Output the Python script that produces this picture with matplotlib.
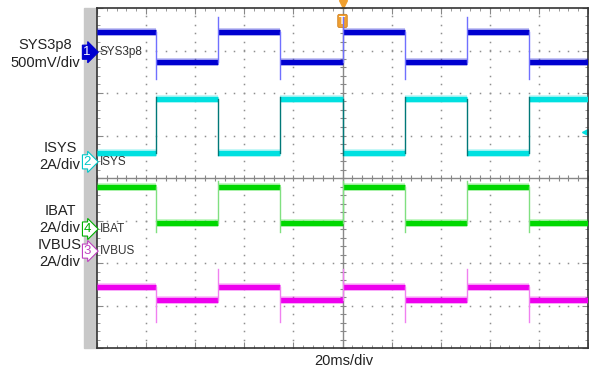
import numpy as np
import matplotlib.pyplot as plt

# scope screen: 20 ms/div horizontally (10 div), 8 div vertically
t_start, t_end = -100.0, 100.0
edge_times = [-75.9, -50.6, -25.3, 0.0, 25.3, 50.6, 75.9]   # ms, trigger at 0

# levels in screen divisions (centre = 0)
sys_high, sys_low = 3.44, 2.73          # SYS3p8
sys_rise_pk, sys_fall_pk = 3.79, 2.33
isys_high, isys_low = 1.86, 0.60        # ISYS
isys_rise_pk, isys_fall_pk = 1.90, 0.55
ibat_high, ibat_low = -0.20, -1.05      # IBAT
ibat_rise_pk, ibat_fall_pk = -0.08, -1.27
ivbus_high, ivbus_low = -2.56, -2.87    # IVBUS
ivbus_rise_pk, ivbus_fall_pk = -2.14, -3.39

plt.rcParams['font.family'] = ['Liberation Sans', 'DejaVu Sans']

fig = plt.figure(figsize=(5.89, 3.72), dpi=100)
W, H = 589.0, 372.0

# grey strip left of the screen (drawn first, under everything)
fig.patches.append(plt.Rectangle((84 / W, (H - 348) / H), 13 / W, 340 / H,
                                 transform=fig.transFigure, color='#c8c8c8', zorder=-5))

ax = fig.add_axes([97 / W, (H - 348) / H, 491 / W, 340 / H])
ax.set_xlim(t_start, t_end)
ax.set_ylim(-4, 4)

# dotted graticule
for gx in np.arange(-80, 81, 20):
    if gx == 0:
        continue
    ys = np.arange(-4, 4.01, 0.2)
    ax.plot(np.full_like(ys, gx), ys, ls='none', marker='s', ms=1.1, mew=0, color='#909090')
for gy in np.arange(-3, 3.1, 1):
    if gy == 0:
        continue
    xs = np.arange(-100, 100.1, 4)
    ax.plot(xs, np.full_like(xs, gy), ls='none', marker='s', ms=1.1, mew=0, color='#909090')

# centre lines with minor ticks
ax.axhline(0, color='#888888', lw=1.0)
ax.axvline(0, color='#888888', lw=1.0)
xs = np.arange(-100, 100.1, 4)
ax.plot(xs, np.zeros_like(xs), ls='none', marker='|', ms=5, color='#888888', mew=0.8)
ys = np.arange(-4, 4.01, 0.2)
ax.plot(np.zeros_like(ys), ys, ls='none', marker='_', ms=5, color='#888888', mew=0.8)

ax.set_xticks(np.arange(-100, 101, 20))
ax.set_yticks(np.arange(-4, 5, 1))
ax.set_xticks(np.arange(-100, 101, 4), minor=True)
ax.set_yticks(np.arange(-4, 4.01, 0.2), minor=True)
ax.tick_params(which='both', direction='in', top=True, right=True,
               labelbottom=False, labelleft=False, color='#888888')
ax.tick_params(which='major', length=4)
ax.tick_params(which='minor', length=2.5)
for s in ax.spines.values():
    s.set_color('#333333')
    s.set_linewidth(1.2)


def draw_trace(start_high, hi, lo, rise_pk, fall_pk, color, edge_color):
    bounds = [t_start] + edge_times + [t_end]
    state = start_high
    for i in range(len(bounds) - 1):
        lvl = hi if state else lo
        ax.plot([bounds[i], bounds[i + 1]], [lvl, lvl], color=color, lw=3.8,
                solid_capstyle='butt', zorder=3)
        ax.plot([bounds[i], bounds[i + 1]], [lvl, lvl], color=color, lw=5.4,
                alpha=0.3, solid_capstyle='butt', zorder=3)
        if i < len(edge_times):
            new = lo if state else hi
            pk = fall_pk if state else rise_pk
            lo_y, hi_y = min(lvl, new, pk), max(lvl, new, pk)
            ax.plot([edge_times[i], edge_times[i]], [lo_y, hi_y], color=edge_color,
                    lw=1.0, zorder=4)
        state = not state


draw_trace(True, sys_high, sys_low, sys_rise_pk, sys_fall_pk, '#0000d0', '#7070ff')
draw_trace(False, isys_high, isys_low, isys_rise_pk, isys_fall_pk, '#00e0e0', '#007878')
draw_trace(True, ibat_high, ibat_low, ibat_rise_pk, ibat_fall_pk, '#00d800', '#80e080')
draw_trace(True, ivbus_high, ivbus_low, ivbus_rise_pk, ivbus_fall_pk, '#ee00ee', '#f080f0')

# channel tags and names
tags = [('1', 2.96, '#0000d0', True, 'SYS3p8'),
        ('2', 0.38, '#00c8c8', False, 'ISYS'),
        ('4', -1.20, '#00b000', False, 'IBAT'),
        ('3', -1.72, '#c040c0', False, 'IVBUS')]
for num, yv, col, filled, name in tags:
    ax.text(-104.0, yv, num, ha='center', va='center', fontsize=9.5, clip_on=False,
            color='white' if filled else col, zorder=6,
            bbox=dict(boxstyle='rarrow,pad=0.08', fc=col if filled else 'white',
                      ec=col, lw=0.8))
    ax.text(-98.8, yv, name, ha='left', va='center', fontsize=8.5, color='#333333',
            family=['Liberation Sans Narrow', 'Liberation Sans'], zorder=6)

# trigger marker
tr = ax.get_xaxis_transform()
ax.plot([0], [1.013], marker='v', ms=6, color='#f0a030', transform=tr, clip_on=False)
ax.text(0, 0.962, 'T', ha='center', va='center', fontsize=7.5, color='white',
        fontweight='bold', transform=tr,
        bbox=dict(boxstyle='round,pad=0.15', fc='#f0a030', ec='#d08020', lw=0.6))

# right side level marker
ax.plot([98.6], [1.08], marker='<', ms=5, color='#00e0e0', ls='none', clip_on=False)

# left labels
labels = [('SYS3p8', 45, 45), ('500mV/div', 45, 63),
          ('ISYS', 60, 148), ('2A/div', 60, 165),
          ('IBAT', 60, 211), ('2A/div', 60, 228),
          ('IVBUS', 60, 245), ('2A/div', 60, 262)]
for txt, xc, yc in labels:
    fig.text(xc / W, (H - yc) / H, txt, ha='center', va='center', fontsize=10.5,
             color='#222222')

fig.text(344 / W, (H - 361) / H, '20ms/div', ha='center', va='center',
         fontsize=10.5, color='#222222')

fig.savefig('out.png', dpi=100)
